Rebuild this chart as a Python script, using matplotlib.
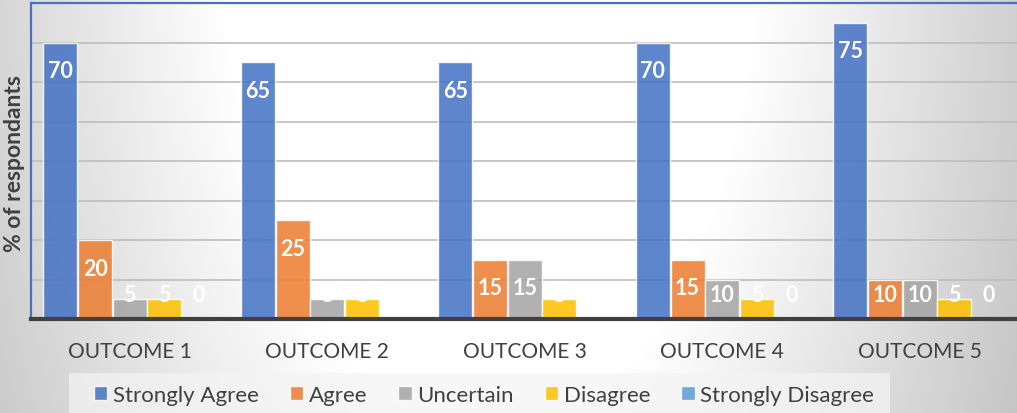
import numpy as np
import matplotlib.pyplot as plt
from matplotlib.patches import Patch, Rectangle

# ----------------------------------------------------
# DATA
# ----------------------------------------------------
outcomes = ["OUTCOME 1", "OUTCOME 2", "OUTCOME 3", "OUTCOME 4", "OUTCOME 5"]
series_names = ["Strongly Agree", "Agree", "Uncertain", "Disagree", "Strongly Disagree"]
strongly_agree = [70, 65, 65, 70, 75]
agree = [20, 25, 15, 15, 10]
uncertain = [5, 5, 15, 10, 10]
disagree = [5, 5, 5, 5, 5]
strongly_disagree = [0, 0, 0, 0, 0]

series = [strongly_agree, agree, uncertain, disagree, strongly_disagree]
colors = ["#4472C4", "#ED7D31", "#A5A5A5", "#FFC000", "#5B9BD5"]

plt.rcParams["font.family"] = ["Lato", "DejaVu Sans"]

W, H = 1017, 414
fig = plt.figure(figsize=(W / 100, H / 100), dpi=100)

# ----------------------------------------------------
# BACKGROUND GRADIENT
# ----------------------------------------------------
bg = fig.add_axes([0, 0, 1, 1], zorder=-10)
yy, xx = np.mgrid[0:H, 0:W]
d = np.sqrt(((xx - 490) / 600.0) ** 2 + ((yy + 100) / 1200.0) ** 2)
g = 255 - 60 * np.clip(d - 0.45, 0, None) / 0.55
g = np.clip(g, 0, 255) / 255.0
bg.imshow(np.dstack([g, g, g]), extent=[0, W, H, 0], aspect="auto")
bg.set_xlim(0, W)
bg.set_ylim(H, 0)
bg.axis("off")

# legend box
fig.patches.append(Rectangle((69 / W, 0), (890 - 69) / W, 40 / H,
                             transform=fig.transFigure, facecolor="#f4f4f4",
                             alpha=0.7, edgecolor="none", zorder=-5))

# ----------------------------------------------------
# BARS
# ----------------------------------------------------
ax = fig.add_axes([31 / W, 94 / H, 987.5 / W, 316 / H])
ax.patch.set_alpha(0)

x = np.arange(len(outcomes))
bw = 0.172
step = 0.1755
for i, (vals, c) in enumerate(zip(series, colors)):
    pos = x + (i - 2) * step
    ax.bar(pos, vals, width=bw, color=c, alpha=0.86, edgecolor="#ffffff80",
           linewidth=1, zorder=3, label=series_names[i])
    for p, v in zip(pos, vals):
        ax.text(p, max(v - 7.1, 6.3), str(v), ha="center", va="center",
                color="white", fontsize=15.5, fontweight="bold", zorder=5)

ax.set_xlim(-0.5, 4.5)
ax.set_ylim(0, 80)
ax.set_yticks(range(10, 80, 10))
ax.set_yticklabels([])
ax.tick_params(axis="y", length=0)
ax.grid(axis="y", color="#bdbdbd", linewidth=1.2, zorder=1)
ax.set_axisbelow(True)

ax.set_xticks(x)
ax.set_xticklabels(outcomes, fontsize=15, color="#404040")
ax.tick_params(axis="x", length=0, pad=16)

ax.spines["right"].set_visible(False)
ax.spines["left"].set_color("#4472C4")
ax.spines["top"].set_color("#4472C4")
ax.spines["left"].set_linewidth(1.6)
ax.spines["top"].set_linewidth(1.6)
ax.spines["bottom"].set_color("#404040")
ax.spines["bottom"].set_linewidth(3)
ax.spines["bottom"].set_zorder(6)

fig.text(15 / W, 250 / H, "% of respondants", rotation=90, ha="center", va="center",
         fontsize=16.5, fontweight="bold", color="#404040")

handles = [Patch(facecolor=c, edgecolor="#ffffff80", alpha=0.86) for c in colors]
fig.legend(handles, series_names, loc="center", bbox_to_anchor=(484 / W, 18 / H),
           ncol=5, frameon=False, fontsize=16, labelcolor="#404040",
           handlelength=0.6, handleheight=0.6, handletextpad=0.25, columnspacing=1.4)

fig.savefig("out.png", dpi=100)
